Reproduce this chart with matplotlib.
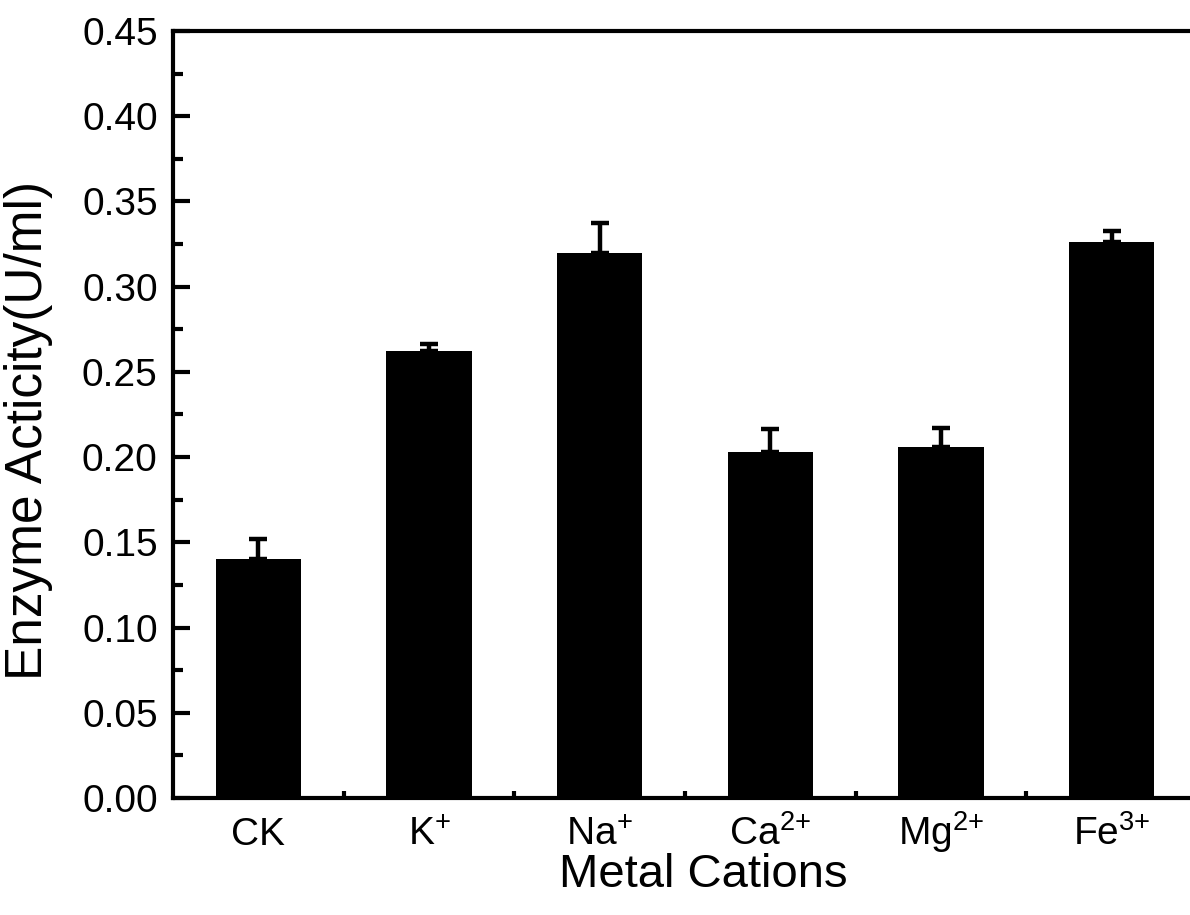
import matplotlib
matplotlib.use("Agg")
import matplotlib.pyplot as plt
import numpy as np
from matplotlib.ticker import MultipleLocator, FixedLocator, FormatStrFormatter

plt.rcParams['font.family'] = ['Liberation Sans', 'DejaVu Sans']
plt.rcParams['mathtext.fontset'] = 'custom'
plt.rcParams['mathtext.rm'] = 'Liberation Sans'
plt.rcParams['mathtext.it'] = 'Liberation Sans:italic'
plt.rcParams['mathtext.bf'] = 'Liberation Sans:bold'

categories = ['CK', r'$\mathregular{K^{{+}}}$', r'$\mathregular{Na^{{+}}}$',
              r'$\mathregular{Ca^{2{+}}}$', r'$\mathregular{Mg^{2{+}}}$', r'$\mathregular{Fe^{3{+}}}$']
activity = [0.140, 0.262, 0.320, 0.203, 0.206, 0.326]
errors = [0.012, 0.0045, 0.0175, 0.0137, 0.011, 0.0068]

fig = plt.figure(figsize=(11.9, 9.15), dpi=100)
ax = fig.add_axes([173/1190, 1-798/915, (1197-173)/1190, (798-31)/915])

x = np.arange(len(categories))
ax.bar(x, activity, width=0.5, color='black',
       yerr=[np.zeros(len(errors)), errors], capsize=6.5,
       error_kw=dict(elinewidth=3.2, capthick=3.2, ecolor='black'))

ax.set_xlim(-0.5, 5.5)
ax.set_ylim(0, 0.45)

for s in ax.spines.values():
    s.set_linewidth(3)

ax.yaxis.set_major_locator(MultipleLocator(0.05))
ax.yaxis.set_minor_locator(MultipleLocator(0.025))
ax.yaxis.set_major_formatter(FormatStrFormatter('%.2f'))
ax.tick_params(axis='y', which='major', direction='in', length=12, width=3,
               labelsize=28, pad=11, right=False)
ax.tick_params(axis='y', which='minor', direction='in', length=7, width=3, right=False)

ax.set_xticks(x)
ax.set_xticklabels(categories)
ax.xaxis.set_minor_locator(FixedLocator(x[:-1] + 0.5))
ax.tick_params(axis='x', which='major', direction='in', length=0, width=3,
               labelsize=28, pad=34, top=False)
ax.tick_params(axis='x', which='minor', direction='in', length=5, width=3, top=False)
for lbl in ax.get_xticklabels():
    lbl.set_va('baseline')

ax.set_xlabel('Metal Cations', fontsize=34)
ax.set_ylabel('Enzyme Acticity(U/ml)', fontsize=37)
ax.xaxis.set_label_coords((703-173)/1024, (798-853)/767)
ax.yaxis.set_label_coords((53-173)/1024, (798-430)/767)

fig.savefig('out.png', dpi=100)
